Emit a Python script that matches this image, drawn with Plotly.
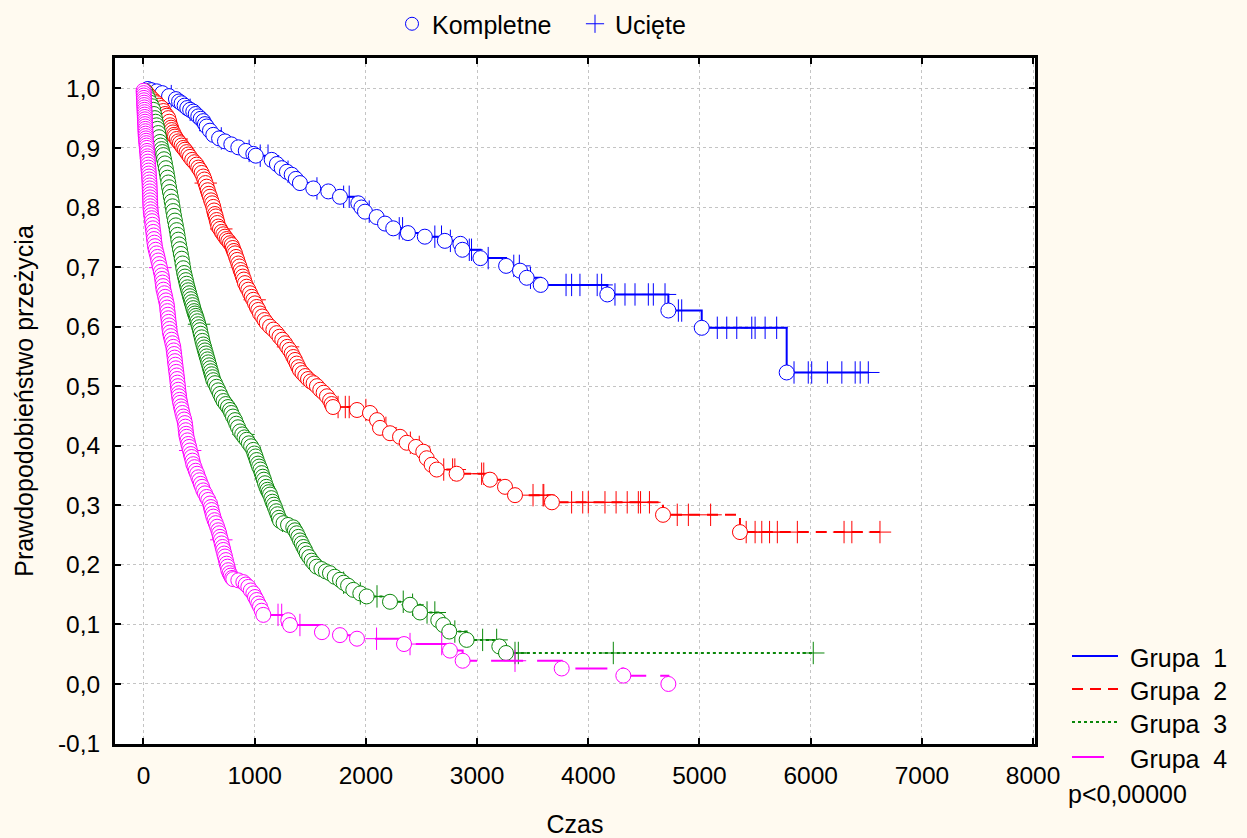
import numpy as np
import plotly.graph_objects as go

# ---- Kaplan-Meier data: event times (complete), survival after each event, censored times ----
g1_event_t = [40, 70, 120, 169, 230, 292, 320, 343, 370, 394, 420, 448, 470, 493, 515, 538, 553,
              568, 598, 628, 680, 733, 790, 853, 920, 988, 1010, 1153, 1200, 1243, 1290, 1333,
              1370, 1407, 1527, 1662, 1767, 1932, 1960, 1992, 2097, 2172, 2246, 2378, 2530, 2710,
              2850, 2868, 3030, 3261, 3386, 3446, 3572, 4171, 4720, 5020, 5784]
g1_event_s = [0.999, 0.997, 0.995, 0.992, 0.987, 0.982, 0.978, 0.975, 0.971, 0.967, 0.964, 0.961,
              0.957, 0.953, 0.949, 0.945, 0.940, 0.936, 0.929, 0.922, 0.916, 0.911, 0.906, 0.901,
              0.895, 0.890, 0.887, 0.880, 0.873, 0.866, 0.860, 0.855, 0.848, 0.841, 0.832, 0.827,
              0.818, 0.807, 0.800, 0.793, 0.784, 0.773, 0.765, 0.757, 0.751, 0.744, 0.739, 0.729,
              0.715, 0.702, 0.694, 0.682, 0.670, 0.654, 0.627, 0.598, 0.523]
g1_cens_t = [250, 420, 600, 700, 950, 1050, 1120, 1300, 1560, 1800, 1850, 2030, 2300, 2330, 2620,
             2680, 2760, 2930, 2950, 3100, 3330, 3380, 3480, 3800, 3850, 3925, 4080, 4120, 4240,
             4330, 4420, 4540, 4585, 4690, 4810, 4840, 5160, 5245, 5335, 5470, 5500, 5590, 5694,
             5850, 5978, 6009, 6150, 6280, 6400, 6445, 6518]

g2_event_t = [20, 40, 60, 80, 100, 120, 140, 164, 180, 195, 210, 223, 232, 240, 248, 254, 265, 275,
              283, 298, 313, 328, 343, 358, 373, 388, 403, 418, 438, 458, 478, 493, 508, 523, 538,
              548, 558, 568, 578, 588, 598, 608, 618, 628, 635, 643, 650, 658, 665, 673, 688, 703,
              718, 733, 748, 763, 778, 793, 803, 813, 823, 833, 843, 853, 863, 873, 883, 893, 903,
              913, 928, 943, 958, 973, 988, 1003, 1018, 1033, 1048, 1068, 1088, 1108, 1138, 1168,
              1198, 1223, 1248, 1273, 1293, 1313, 1333, 1348, 1363, 1378, 1393, 1407, 1430, 1455,
              1480, 1505, 1530, 1560, 1590, 1620, 1650, 1678, 1692, 1705, 1920, 2037, 2100, 2127,
              2217, 2307, 2367, 2450, 2516, 2547, 2591, 2637, 2816, 3116, 3251, 3341, 3673, 4672,
              5364]
g2_event_s = [0.995, 0.990, 0.986, 0.982, 0.978, 0.975, 0.971, 0.967, 0.962, 0.957, 0.954, 0.950,
              0.944, 0.938, 0.934, 0.930, 0.926, 0.922, 0.919, 0.915, 0.911, 0.908, 0.904, 0.900,
              0.897, 0.893, 0.889, 0.885, 0.880, 0.876, 0.872, 0.867, 0.863, 0.858, 0.852, 0.847,
              0.841, 0.835, 0.829, 0.823, 0.818, 0.812, 0.807, 0.801, 0.795, 0.789, 0.785, 0.779,
              0.774, 0.768, 0.764, 0.759, 0.755, 0.751, 0.747, 0.744, 0.740, 0.737, 0.732, 0.727,
              0.723, 0.717, 0.712, 0.706, 0.701, 0.695, 0.690, 0.684, 0.679, 0.673, 0.667, 0.662,
              0.656, 0.650, 0.645, 0.639, 0.633, 0.628, 0.622, 0.617, 0.611, 0.606, 0.600, 0.595,
              0.589, 0.583, 0.578, 0.572, 0.566, 0.561, 0.555, 0.549, 0.544, 0.538, 0.532, 0.527,
              0.522, 0.517, 0.512, 0.508, 0.505, 0.500, 0.494, 0.489, 0.483, 0.476, 0.470, 0.465,
              0.460, 0.455, 0.443, 0.430, 0.421, 0.415, 0.405, 0.398, 0.390, 0.379, 0.368, 0.360,
              0.353, 0.343, 0.331, 0.317, 0.305, 0.284, 0.255]
g2_cens_t = [300, 560, 700, 1000, 1300, 1750, 1815, 1850, 2000, 2180, 2400, 2480, 2700, 2780, 2800,
             3041, 3060, 3503, 3593, 3600, 3850, 3950, 4000, 4150, 4250, 4350, 4450, 4470, 4550,
             4800, 4900, 5100, 5420, 5500, 5560, 5630, 5700, 5880, 6300, 6370, 6623]

g3_event_t = [15, 30, 45, 60, 75, 88, 95, 103, 110, 118, 125, 133, 140, 148, 155, 163, 170, 178,
              185, 193, 201, 209, 216, 223, 230, 238, 246, 254, 261, 268, 275, 283, 291, 299, 306,
              313, 320, 328, 336, 344, 351, 358, 366, 373, 381, 388, 396, 403, 411, 418, 426, 433,
              441, 448, 456, 463, 471, 478, 486, 493, 501, 508, 515, 523, 530, 538, 546, 553, 561,
              568, 576, 583, 591, 598, 606, 613, 621, 628, 643, 658, 673, 688, 703, 720, 740, 760,
              778, 790, 805, 823, 835, 850, 868, 888, 908, 928, 948, 968, 988, 998, 1008, 1018,
              1030, 1040, 1052, 1063, 1073, 1083, 1093, 1105, 1115, 1127, 1138, 1150, 1160, 1172,
              1183, 1195, 1205, 1217, 1228, 1260, 1300, 1347, 1362, 1378, 1393, 1408, 1423, 1438,
              1453, 1468, 1490, 1512, 1535, 1558, 1600, 1640, 1677, 1720, 1767, 1800, 1840, 1887,
              1950, 2007, 2217, 2397, 2487, 2651, 2696, 2750, 2906, 3200, 3260]
g3_event_s = [0.995, 0.988, 0.982, 0.976, 0.970, 0.964, 0.957, 0.950, 0.944, 0.938, 0.932, 0.925,
              0.918, 0.910, 0.904, 0.898, 0.893, 0.888, 0.881, 0.874, 0.866, 0.858, 0.850, 0.842,
              0.834, 0.826, 0.818, 0.810, 0.802, 0.794, 0.786, 0.778, 0.770, 0.762, 0.754, 0.746,
              0.738, 0.730, 0.722, 0.714, 0.706, 0.698, 0.690, 0.684, 0.678, 0.672, 0.666, 0.661,
              0.656, 0.651, 0.646, 0.641, 0.636, 0.631, 0.626, 0.622, 0.618, 0.614, 0.609, 0.604,
              0.599, 0.594, 0.588, 0.582, 0.576, 0.570, 0.565, 0.560, 0.555, 0.550, 0.545, 0.540,
              0.535, 0.530, 0.525, 0.520, 0.515, 0.510, 0.505, 0.499, 0.493, 0.487, 0.481, 0.475,
              0.470, 0.465, 0.460, 0.455, 0.449, 0.443, 0.437, 0.431, 0.424, 0.419, 0.414, 0.410,
              0.404, 0.399, 0.393, 0.387, 0.382, 0.376, 0.370, 0.365, 0.360, 0.354, 0.348, 0.343,
              0.337, 0.331, 0.326, 0.322, 0.318, 0.312, 0.306, 0.301, 0.296, 0.290, 0.285, 0.279,
              0.274, 0.270, 0.267, 0.263, 0.258, 0.253, 0.247, 0.241, 0.236, 0.230, 0.225, 0.219,
              0.213, 0.207, 0.202, 0.197, 0.193, 0.189, 0.186, 0.180, 0.175, 0.170, 0.165, 0.158,
              0.152, 0.147, 0.138, 0.133, 0.120, 0.107, 0.099, 0.088, 0.074, 0.063, 0.052]
g3_cens_t = [500, 900, 1250, 1800, 1950, 2100, 2336, 2420, 2550, 2620, 2800, 3050, 3176, 3341, 3371,
             4225, 6023]

g4_event_t = [1, 2, 3, 4, 5, 6, 7, 8, 9, 10, 11, 12, 13, 14, 15, 16, 17, 18, 19, 20, 22, 24, 26,
              28, 30, 32, 34, 36, 38, 40, 42, 44, 46, 48, 50, 52, 54, 55, 56, 57, 58, 59, 60, 61,
              62, 64, 66, 70, 74, 77, 80, 84, 88, 92, 95, 99, 103, 110, 118, 126, 133, 141, 148,
              156, 164, 168, 172, 176, 180, 188, 195, 202, 209, 213, 216, 220, 223, 227, 230, 234,
              238, 245, 253, 260, 268, 272, 276, 280, 283, 287, 291, 295, 299, 303, 306, 310, 313,
              317, 320, 325, 330, 337, 343, 350, 358, 366, 373, 377, 380, 384, 388, 396, 403, 411,
              418, 426, 433, 441, 448, 459, 470, 482, 493, 504, 515, 527, 538, 553, 568, 583, 598,
              606, 613, 621, 628, 639, 650, 662, 673, 681, 688, 696, 703, 711, 718, 726, 733, 741,
              748, 756, 763, 774, 785, 797, 808, 853, 898, 920, 943, 965, 988, 1003, 1018, 1033,
              1048, 1063, 1078, 1302, 1318, 1605, 1767, 1920, 2343, 2756, 2870, 3761, 4315, 4720]
g4_event_s = [0.996, 0.992, 0.988, 0.984, 0.980, 0.976, 0.972, 0.968, 0.964, 0.960, 0.956, 0.952,
              0.948, 0.944, 0.940, 0.936, 0.932, 0.928, 0.924, 0.920, 0.916, 0.912, 0.908, 0.904,
              0.900, 0.895, 0.891, 0.886, 0.882, 0.877, 0.872, 0.867, 0.862, 0.857, 0.852, 0.847,
              0.842, 0.837, 0.832, 0.827, 0.822, 0.817, 0.812, 0.807, 0.802, 0.797, 0.792, 0.787,
              0.782, 0.777, 0.771, 0.765, 0.759, 0.753, 0.747, 0.741, 0.735, 0.729, 0.723, 0.717,
              0.711, 0.705, 0.699, 0.692, 0.686, 0.680, 0.674, 0.668, 0.662, 0.656, 0.650, 0.644,
              0.638, 0.632, 0.626, 0.620, 0.614, 0.608, 0.602, 0.596, 0.590, 0.584, 0.578, 0.572,
              0.566, 0.560, 0.554, 0.548, 0.542, 0.536, 0.530, 0.524, 0.518, 0.512, 0.506, 0.500,
              0.494, 0.488, 0.483, 0.477, 0.472, 0.466, 0.461, 0.455, 0.449, 0.444, 0.438, 0.432,
              0.426, 0.420, 0.415, 0.409, 0.403, 0.398, 0.392, 0.386, 0.381, 0.375, 0.369, 0.364,
              0.358, 0.353, 0.347, 0.342, 0.336, 0.331, 0.325, 0.320, 0.314, 0.309, 0.303, 0.297,
              0.292, 0.286, 0.281, 0.275, 0.270, 0.264, 0.258, 0.253, 0.247, 0.242, 0.236, 0.230,
              0.225, 0.219, 0.214, 0.208, 0.202, 0.197, 0.191, 0.186, 0.182, 0.178, 0.176, 0.174,
              0.171, 0.167, 0.163, 0.157, 0.152, 0.146, 0.141, 0.135, 0.130, 0.123, 0.116, 0.107,
              0.099, 0.087, 0.082, 0.076, 0.067, 0.056, 0.039, 0.026, 0.014, 0.000]
g4_cens_t = [150, 420, 700, 1210, 1243, 1407, 2096, 2397, 2682, 3341]

group_names = ["Grupa  1", "Grupa  2", "Grupa  3", "Grupa  4"]
group_colors = ["#0000ff", "#ff0000", "#0a870a", "#ff00ff"]
group_dash = ["solid", "11px,7px", "3px,3px", "32px,14px"]

x_tick_vals = [0, 1000, 2000, 3000, 4000, 5000, 6000, 7000, 8000]
x_tick_text = ["0", "1000", "2000", "3000", "4000", "5000", "6000", "7000", "8000"]
y_tick_vals = [-0.1, 0.0, 0.1, 0.2, 0.3, 0.4, 0.5, 0.6, 0.7, 0.8, 0.9, 1.0]
y_tick_text = ["-0,1", "0,0", "0,1", "0,2", "0,3", "0,4", "0,5", "0,6", "0,7", "0,8", "0,9", "1,0"]

groups = [
    (g1_event_t, g1_event_s, g1_cens_t),
    (g2_event_t, g2_event_s, g2_cens_t),
    (g3_event_t, g3_event_s, g3_cens_t),
    (g4_event_t, g4_event_s, g4_cens_t),
]


def km_path(event_t, event_s, cens_t):
    """Step path of the survival curve plus the survival level at each censored time."""
    et = np.asarray(event_t, float)
    es = np.asarray(event_s, float)
    ct = np.asarray(cens_t, float)
    idx = np.searchsorted(et, ct, side="right") - 1
    cs = np.where(idx >= 0, es[np.clip(idx, 0, None)], 1.0)
    t_all = np.concatenate([[0.0], et, ct])
    s_all = np.concatenate([[1.0], es, cs])
    order = np.argsort(t_all, kind="stable")
    return t_all[order], s_all[order], cs


FONT = "Liberation Sans, Arial, sans-serif"
fig = go.Figure()

for (et, es, ct), name, col, dash in zip(groups, group_names, group_colors, group_dash):
    path_t, path_s, cens_s = km_path(et, es, ct)
    fig.add_trace(go.Scatter(
        x=path_t, y=path_s, mode="lines", line=dict(color=col, width=2, dash=dash, shape="hv"),
        name=name, showlegend=False, hoverinfo="skip"))
    fig.add_trace(go.Scatter(
        x=ct, y=cens_s, mode="markers", showlegend=False,
        marker=dict(symbol="cross-thin-open", size=16, color=col, line=dict(color=col, width=1)),
        name=name + " (ucięte)"))
    fig.add_trace(go.Scatter(
        x=et, y=es, mode="markers", showlegend=False,
        marker=dict(symbol="circle", size=15, color="white", line=dict(color=col, width=1)),
        name=name + " (kompletne)"))

# Legend entries for the marker kinds
fig.add_trace(go.Scatter(x=[None], y=[None], mode="markers", name="Kompletne",
                         marker=dict(symbol="circle-open", size=13, color="#0000ff",
                                     line=dict(color="#0000ff", width=1))))
fig.add_trace(go.Scatter(x=[None], y=[None], mode="markers", name="Ucięte",
                         marker=dict(symbol="cross-thin-open", size=13, color="#0000ff",
                                     line=dict(color="#0000ff", width=1))))

# Plot area in pixels: x 115..1035, y 58..744
L, R, T, B = 115, 1035, 58, 744


def px(xp):
    return (xp - L) / (R - L)


def py(yp):
    return (B - yp) / (B - T)


shapes = []
annotations = []
row_y = [656, 689, 722, 757]
for i, (name, col, dash, yy) in enumerate(zip(group_names, group_colors, group_dash, row_y)):
    last = i == len(group_names) - 1
    shapes.append(dict(type="line", xref="paper", yref="paper",
                       x0=px(1072), x1=px(1104 if last else 1118), y0=py(yy), y1=py(yy),
                       line=dict(color=col, width=2, dash="solid" if last else dash)))
    annotations.append(dict(xref="paper", yref="paper", x=px(1128), y=py(yy + 2), text=name,
                            showarrow=False, xanchor="left", yanchor="middle",
                            font=dict(family=FONT, size=25, color="black")))
annotations.append(dict(xref="paper", yref="paper", x=px(1066), y=py(794), text="p<0,00000",
                        showarrow=False, xanchor="left", yanchor="middle",
                        font=dict(family=FONT, size=25, color="black")))

axis_common = dict(
    showline=True, linecolor="black", linewidth=3, mirror="ticks",
    ticks="inside", ticklen=6, tickwidth=2, tickcolor="black",
    showgrid=True, gridcolor="#c4c4c4", gridwidth=1, griddash="3px,3px",
    zeroline=False, tickfont=dict(family=FONT, size=24.5, color="black"),
)

fig.update_layout(
    width=1247, height=838,
    margin=dict(l=L, r=1247 - R, t=T, b=838 - B, autoexpand=False),
    paper_bgcolor="#fffaf0", plot_bgcolor="white",
    font=dict(family=FONT, size=24, color="black"),
    xaxis=dict(range=[-256, 8017], tickvals=x_tick_vals, ticktext=x_tick_text,
               ticklabelstandoff=8,
               title=dict(text="Czas", font=dict(family=FONT, size=25), standoff=33),
               **axis_common),
    yaxis=dict(range=[-0.1008, 1.051], tickvals=y_tick_vals, ticktext=y_tick_text,
               ticklabelstandoff=7,
               title=dict(text="Prawdopodobieństwo przeżycia", font=dict(family=FONT, size=25),
                          standoff=18),
               **axis_common),
    legend=dict(orientation="h", x=px(392), xanchor="left", y=py(24), yanchor="middle",
                bgcolor="rgba(0,0,0,0)", font=dict(family=FONT, size=25),
                entrywidth=138, entrywidthmode="pixels"),
    shapes=shapes, annotations=annotations,
)

fig.write_html("out.html")
